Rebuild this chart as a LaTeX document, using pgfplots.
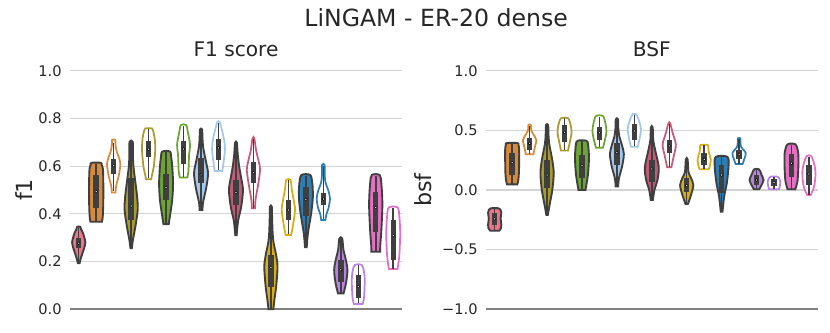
\documentclass[border=0pt]{standalone}
\usepackage{fontspec}
\setmainfont{DejaVu Sans}
\usepackage{pgfplots}
\pgfplotsset{compat=1.18}

\definecolor{vpink}{HTML}{EF7389}
\definecolor{vorange}{HTML}{D88A3C}
\definecolor{volive}{HTML}{A89B30}
\definecolor{vgreen}{HTML}{6CA534}
\definecolor{vlblue}{HTML}{A4C8EB}
\definecolor{vrose}{HTML}{C45A7A}
\definecolor{vgold}{HTML}{D9AD13}
\definecolor{vblue}{HTML}{2E7EB6}
\definecolor{vpurple}{HTML}{BC82E4}
\definecolor{vmagenta}{HTML}{E470C4}
\definecolor{vdark}{HTML}{3F3F3F}
\definecolor{vgrid}{HTML}{D4D4D4}
\definecolor{vaxis}{HTML}{808080}

\tikzset{
  F/.style={fill=#1, draw=vdark, line width=1.35pt},
  O/.style={fill=white, draw=#1, line width=1.25pt},
}

% #1 x, #2 style, #3 profile y/halfwidth (bottom to top), #4 min, #5 q1, #6 median, #7 q3, #8 max
\newcommand\violin[8]{%
  \gdef\vR{}\gdef\vL{}%
  \foreach \yy/\ww in {#3} {%
    \pgfmathsetmacro\xa{#1+\ww}%
    \pgfmathsetmacro\xb{#1-\ww}%
    \xdef\vR{\vR(\xa,\yy)}%
    \xdef\vL{(\xb,\yy)\vL}%
  }%
  \edef\vtmp{\noexpand\addplot[#2, smooth, tension=0.5, mark=none, forget plot] coordinates {\vR\vL} -- cycle;}%
  \vtmp
  \addplot[vdark, line width=1.1pt, mark=none, forget plot] coordinates {(#1,#4) (#1,#8)};
  \addplot[vdark, line width=3.9pt, mark=none, forget plot] coordinates {(#1,#5) (#1,#7)};
  \addplot[only marks, mark=*, mark size=1pt, mark options={fill=white, draw=none}, forget plot] coordinates {(#1,#6)};
}

\pgfplotsset{
  vstyle/.style={
    scale only axis,
    width=239pt, height=171.8pt,
    xmin=-0.5, xmax=18.5,
    xtick=\empty,
    axis x line*=bottom,
    axis y line*=left,
    x axis line style={draw=vaxis, line width=1.3pt, -},
    y axis line style={draw=none},
    ymajorgrids,
    grid style={vgrid, line width=0.8pt},
    major tick length=0pt,
    clip=false,
    /pgf/number format/assume math mode=true,
    yticklabel style={font=\fontsize{10.5}{12}\selectfont, text=black!85, inner sep=0pt, xshift=-5.8pt},
    title style={font=\fontsize{14.5}{16}\selectfont, text=black!85, at={(0.5,1)}, anchor=base, yshift=4.2pt},
  }
}

\begin{document}
\begin{tikzpicture}
\path[use as bounding box] (0,0) rectangle (597.6pt,239.04pt);
\node[anchor=base, font=\fontsize{17}{19}\selectfont, text=black!85] at (314pt,220.3pt) {LiNGAM - ER-20 dense};

% ---------------- F1 score ----------------
\begin{axis}[vstyle,
  at={(50.4pt,16.34pt)}, anchor=south west,
  ymin=0, ymax=1,
  ytick={0,0.2,0.4,0.6,0.8,1.0},
  yticklabels={0.0,0.2,0.4,0.6,0.8,1.0},
  title={F1 score},
  ylabel={f1},
  every axis y label/.style={at={(axis description cs:-0.1386,0.5)}, anchor=center, rotate=90, font=\fontsize{16}{18}\selectfont, text=black!85},
]
\violin{0}{F=vpink}{0.193/0.05,0.214/0.12,0.25/0.28,0.28/0.38,0.318/0.25,0.335/0.14,0.346/0.09}{0.20}{0.256}{0.277}{0.300}{0.34}
\violin{1}{F=vorange}{0.367/0.33,0.385/0.37,0.43/0.40,0.5/0.41,0.56/0.40,0.59/0.38,0.605/0.32,0.614/0.27}{0.37}{0.423}{0.493}{0.563}{0.61}
\violin{2}{O=vorange}{0.489/0.1,0.52/0.15,0.563/0.3,0.61/0.38,0.64/0.28,0.66/0.18,0.689/0.1,0.71/0.09}{0.495}{0.567}{0.602}{0.630}{0.695}
\violin{3}{F=volive}{0.256/0.04,0.29/0.1,0.35/0.25,0.42/0.38,0.48/0.33,0.545/0.22,0.6/0.13,0.65/0.1,0.702/0.09}{0.26}{0.374}{0.433}{0.549}{0.70}
\violin{4}{O=volive}{0.545/0.15,0.565/0.2,0.6/0.3,0.67/0.38,0.72/0.34,0.75/0.25,0.758/0.2}{0.55}{0.640}{0.671}{0.707}{0.755}
\violin{5}{F=vgreen}{0.357/0.15,0.4/0.24,0.458/0.35,0.527/0.40,0.6/0.35,0.633/0.3,0.661/0.22}{0.36}{0.458}{0.511}{0.567}{0.66}
\violin{6}{O=vgreen}{0.552/0.22,0.58/0.28,0.62/0.3,0.65/0.32,0.69/0.37,0.737/0.26,0.772/0.15}{0.555}{0.609}{0.672}{0.707}{0.77}
\violin{7}{F=vlblue}{0.416/0.08,0.45/0.12,0.51/0.3,0.57/0.40,0.62/0.28,0.68/0.12,0.72/0.08,0.754/0.06}{0.42}{0.528}{0.563}{0.633}{0.75}
\violin{8}{O=vlblue}{0.58/0.22,0.61/0.28,0.67/0.37,0.71/0.32,0.756/0.18,0.786/0.06}{0.585}{0.626}{0.677}{0.712}{0.78}
\violin{9}{F=vrose}{0.311/0.04,0.37/0.12,0.43/0.3,0.5/0.40,0.55/0.3,0.6/0.18,0.65/0.1,0.698/0.05}{0.315}{0.437}{0.489}{0.542}{0.695}
\violin{10}{O=vrose}{0.423/0.09,0.46/0.12,0.514/0.25,0.584/0.38,0.62/0.3,0.667/0.15,0.717/0.05}{0.425}{0.528}{0.573}{0.619}{0.715}
\violin{11}{F=vgold}{0.0/0.14,0.04/0.2,0.095/0.3,0.18/0.38,0.234/0.28,0.28/0.15,0.318/0.1,0.38/0.07,0.43/0.05}{0.0}{0.095}{0.175}{0.228}{0.42}
\violin{12}{O=vgold}{0.311/0.15,0.346/0.25,0.416/0.38,0.46/0.3,0.5/0.2,0.542/0.12}{0.315}{0.374}{0.416}{0.458}{0.54}
\violin{13}{F=vblue}{0.26/0.05,0.32/0.12,0.4/0.3,0.47/0.40,0.528/0.37,0.563/0.25}{0.265}{0.391}{0.461}{0.511}{0.56}
\violin{14}{O=vblue}{0.374/0.12,0.4/0.18,0.425/0.3,0.465/0.38,0.5/0.28,0.53/0.13,0.56/0.08,0.605/0.07}{0.378}{0.437}{0.462}{0.486}{0.60}
\violin{15}{F=vpurple}{0.067/0.16,0.11/0.3,0.165/0.38,0.21/0.28,0.25/0.15,0.297/0.08}{0.07}{0.116}{0.165}{0.207}{0.295}
\violin{16}{O=vpurple}{0.022/0.25,0.05/0.33,0.12/0.37,0.16/0.32,0.186/0.2}{0.025}{0.046}{0.095}{0.144}{0.185}
\violin{17}{F=vmagenta}{0.241/0.25,0.27/0.26,0.33/0.32,0.44/0.38,0.528/0.32,0.563/0.22}{0.245}{0.325}{0.426}{0.493}{0.56}
\violin{18}{O=vmagenta}{0.169/0.25,0.2/0.31,0.237/0.36,0.32/0.40,0.39/0.35,0.427/0.25}{0.17}{0.207}{0.309}{0.374}{0.425}
\end{axis}

% ---------------- BSF ----------------
\begin{axis}[vstyle,
  at={(349.9pt,16.34pt)}, anchor=south west,
  width=238.8pt,
  ymin=-1, ymax=1,
  ytick={-1,-0.5,0,0.5,1},
  yticklabels={−1.0,−0.5,0.0,0.5,1.0},
  title={BSF},
  ylabel={bsf},
  every axis y label/.style={at={(axis description cs:-0.19,0.5)}, anchor=center, rotate=90, font=\fontsize{16}{18}\selectfont, text=black!85},
]
\violin{0}{F=vpink}{-0.342/0.25,-0.32/0.36,-0.29/0.38,-0.24/0.34,-0.19/0.38,-0.165/0.33,-0.153/0.22}{-0.34}{-0.29}{-0.242}{-0.19}{-0.155}
\violin{1}{F=vorange}{0.047/0.29,0.08/0.35,0.15/0.39,0.25/0.40,0.34/0.40,0.38/0.36,0.394/0.3}{0.05}{0.125}{0.228}{0.31}{0.39}
\violin{2}{O=vorange}{0.299/0.22,0.33/0.26,0.36/0.3,0.42/0.38,0.47/0.2,0.5/0.09,0.545/0.07}{0.30}{0.335}{0.391}{0.44}{0.54}
\violin{3}{F=volive}{-0.21/0.04,-0.12/0.15,0.0/0.3,0.14/0.38,0.25/0.3,0.39/0.12,0.47/0.08,0.545/0.06}{-0.205}{0.014}{0.126}{0.251}{0.54}
\violin{4}{O=volive}{0.33/0.2,0.4/0.3,0.48/0.40,0.545/0.35,0.601/0.2}{0.335}{0.405}{0.484}{0.545}{0.6}
\violin{5}{F=vgreen}{0.0/0.2,0.05/0.26,0.14/0.35,0.27/0.40,0.38/0.35,0.413/0.25}{0.0}{0.098}{0.204}{0.293}{0.41}
\violin{6}{O=vgreen}{0.355/0.2,0.41/0.3,0.49/0.40,0.56/0.34,0.62/0.2}{0.36}{0.419}{0.48}{0.53}{0.615}
\violin{7}{F=vlblue}{0.03/0.07,0.1/0.12,0.2/0.3,0.3/0.40,0.37/0.3,0.45/0.14,0.52/0.08,0.593/0.06}{0.035}{0.21}{0.313}{0.391}{0.59}
\violin{8}{O=vlblue}{0.363/0.2,0.43/0.3,0.51/0.38,0.59/0.25,0.637/0.08}{0.365}{0.419}{0.494}{0.553}{0.63}
\violin{9}{F=vrose}{-0.084/0.06,0.0/0.15,0.08/0.32,0.19/0.40,0.33/0.2,0.42/0.08,0.525/0.05}{-0.08}{0.07}{0.176}{0.251}{0.52}
\violin{10}{O=vrose}{0.19/0.12,0.28/0.25,0.38/0.38,0.475/0.2,0.559/0.05}{0.195}{0.313}{0.369}{0.419}{0.555}
\violin{11}{F=vgold}{-0.117/0.07,-0.04/0.25,0.04/0.38,0.1/0.25,0.15/0.1,0.257/0.05}{-0.115}{-0.014}{0.036}{0.098}{0.255}
\violin{12}{O=vgold}{0.173/0.25,0.19/0.3,0.25/0.38,0.32/0.26,0.35/0.24,0.377/0.2}{0.175}{0.21}{0.257}{0.307}{0.375}
\violin{13}{F=vblue}{-0.182/0.05,-0.05/0.15,0.06/0.3,0.21/0.40,0.279/0.32}{-0.18}{-0.028}{0.126}{0.21}{0.275}
\violin{14}{O=vblue}{0.218/0.2,0.26/0.3,0.31/0.38,0.36/0.12,0.4/0.08,0.433/0.07}{0.22}{0.257}{0.299}{0.335}{0.43}
\violin{15}{F=vpurple}{0.006/0.15,0.04/0.28,0.084/0.40,0.13/0.28,0.173/0.14}{0.01}{0.042}{0.084}{0.126}{0.17}
\violin{16}{O=vpurple}{0.006/0.28,0.03/0.33,0.07/0.36,0.1/0.28,0.112/0.2}{0.01}{0.03}{0.064}{0.09}{0.11}
\violin{17}{F=vmagenta}{0.006/0.22,0.08/0.35,0.22/0.40,0.32/0.38,0.383/0.22}{0.01}{0.112}{0.224}{0.299}{0.38}
\violin{18}{O=vmagenta}{-0.042/0.1,0.03/0.3,0.14/0.38,0.22/0.3,0.285/0.12}{-0.04}{0.042}{0.134}{0.21}{0.28}
\end{axis}
\end{tikzpicture}
\end{document}
